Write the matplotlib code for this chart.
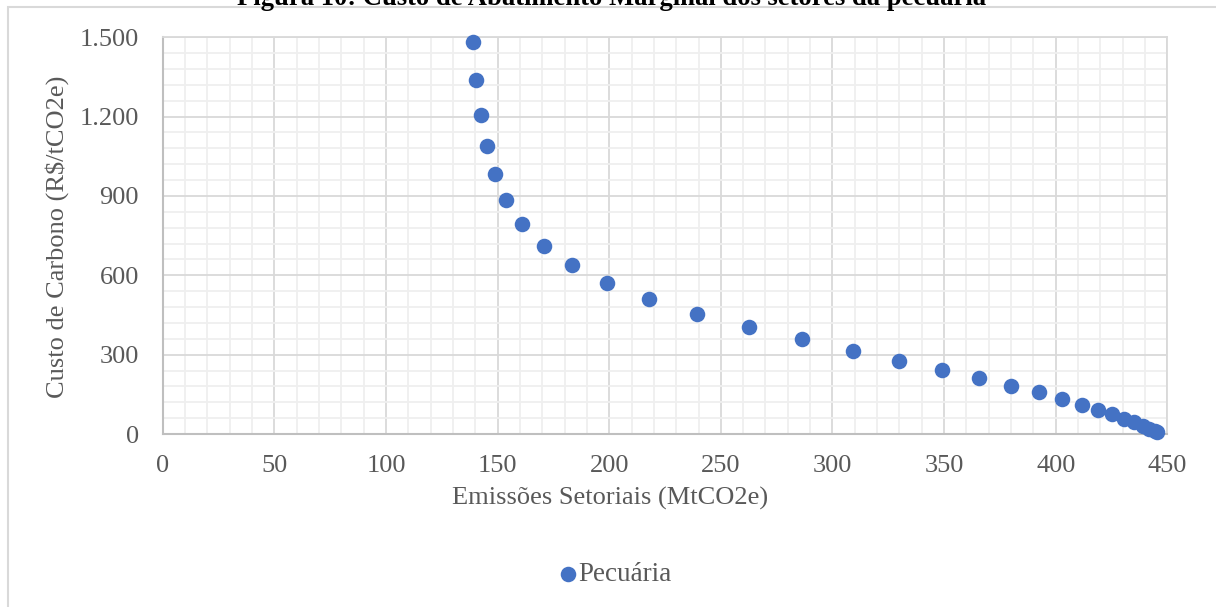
import numpy as np
import matplotlib
matplotlib.use("Agg")
import matplotlib.pyplot as plt
from matplotlib.patches import Rectangle
from matplotlib.ticker import MultipleLocator, FuncFormatter

plt.rcParams['font.family'] = ['Liberation Serif', 'DejaVu Serif']

title = "Figura 10: Custo de Abatimento Marginal dos setores da pecuária"
series_name = "Pecuária"

# emissions (MtCO2e) and carbon cost (R$/tCO2e)
emissoes = [138.9, 140.5, 142.4, 145.1, 148.9, 153.9, 161.1, 170.8, 183.3, 199.2,
            217.8, 239.3, 262.6, 286.2, 309.1, 330.0, 349.2, 365.8, 380.1, 392.4,
            402.8, 411.7, 419.1, 425.4, 430.7, 435.2, 439.0, 441.9, 444.4, 445.5]
custo = [1483, 1340, 1207, 1089, 982, 884, 793, 711, 638, 570,
         510, 454, 405, 358, 315, 277, 243, 212, 183, 158,
         133, 111, 92, 74, 58, 44, 31, 20, 12, 6]

blue = '#4472C4'
grey_txt = '#595959'

fig = plt.figure(figsize=(12.16, 6.07), dpi=100)
ax = fig.add_axes([0.1338, 0.285, 0.960 - 0.1338, 0.9386 - 0.285])

ax.scatter(emissoes, custo, s=125, color=blue, zorder=3, clip_on=False,
           linewidths=0, label=series_name)

ax.set_xlim(0, 450)
ax.set_ylim(0, 1500)
ax.xaxis.set_major_locator(MultipleLocator(50))
ax.xaxis.set_minor_locator(MultipleLocator(10))
ax.yaxis.set_major_locator(MultipleLocator(300))
ax.yaxis.set_minor_locator(MultipleLocator(60))
ax.yaxis.set_major_formatter(FuncFormatter(lambda v, p: f"{int(v):,}".replace(",", ".")))

ax.grid(True, which='major', color='#d9d9d9', linewidth=1.3)
ax.grid(True, which='minor', color='#efefef', linewidth=1.3)
ax.set_axisbelow(True)
for s in ['top', 'right']:
    ax.spines[s].set_color('#d9d9d9')
    ax.spines[s].set_linewidth(1.3)
for s in ['left', 'bottom']:
    ax.spines[s].set_color('#bfbfbf')
    ax.spines[s].set_linewidth(1.5)

ax.tick_params(which='both', length=0, labelsize=19, colors=grey_txt)
ax.tick_params(axis='y', pad=17)
ax.tick_params(axis='x', pad=15)

fig.text(0.5015, 0.179, "Emissões Setoriais (MtCO2e)", ha='center', va='center',
         fontsize=19, color=grey_txt)
fig.text(0.047, 0.6104, "Custo de Carbono (R$/tCO2e)", ha='center', va='center',
         rotation=90, fontsize=19, color=grey_txt)

fig.text(0.503, 1 - 5 / 607, title, ha='center', va='baseline', fontsize=19.2,
         fontweight='bold', color='black')

fig.add_artist(Rectangle((8 / 1216, -0.2), 1.2, 1.2 - 7 / 607,
                         transform=fig.transFigure, fill=False,
                         edgecolor='#d9d9d9', linewidth=1.5, clip_on=False))

fig.legend(loc='center', bbox_to_anchor=(0.504, 0.053), frameon=False,
           fontsize=19.5, labelcolor=grey_txt, handletextpad=-0.1,
           handlelength=1.0, markerscale=1.0)

fig.savefig("out.png", dpi=100)
